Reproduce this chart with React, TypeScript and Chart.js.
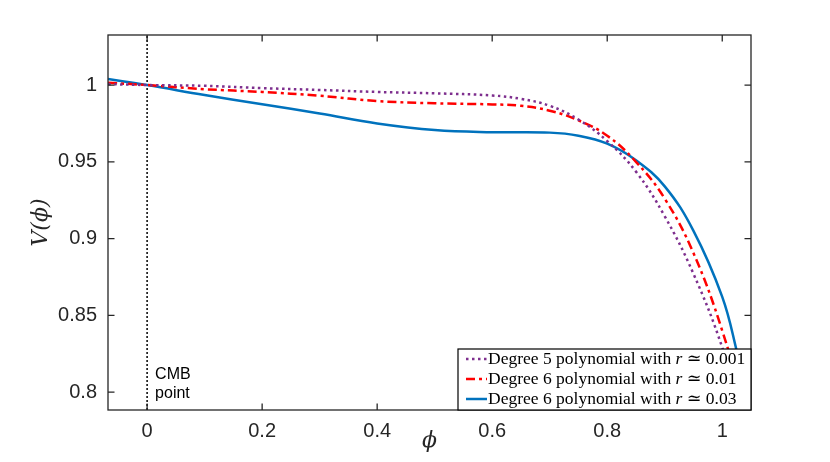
import { useEffect, useRef } from 'react';
import { Chart, registerables } from 'chart.js';

Chart.register(...registerables);

// axis limits and tick labels
const xLimits = [-0.068, 1.05];
const yLimits = [0.7883, 1.0326];
const xTicks = [0, 0.2, 0.4, 0.6, 0.8, 1];
const yTicks = [0.8, 0.85, 0.9, 0.95, 1];

// Degree 5 polynomial, r ~ 0.001
const phiDeg5 = [-0.068, 0, 0.1, 0.2, 0.3, 0.4, 0.5, 0.6, 0.65, 0.7, 0.75, 0.8, 0.85, 0.9, 0.95, 1.0, 1.05];
const vDeg5 = [1.0006, 1.0, 0.9995, 0.998, 0.9968, 0.9955, 0.9946, 0.9932, 0.991, 0.9865, 0.9775, 0.9635, 0.9436, 0.9145, 0.877, 0.829, 0.765];

// Degree 6 polynomial, r ~ 0.01
const phiDeg6a = [-0.068, 0, 0.1, 0.2, 0.3, 0.4, 0.5, 0.6, 0.65, 0.7, 0.75, 0.8, 0.85, 0.9, 0.95, 1.0, 1.05];
const vDeg6a = [1.0015, 1.0, 0.9973, 0.9955, 0.993, 0.9896, 0.9881, 0.9874, 0.9865, 0.9833, 0.977, 0.967, 0.95, 0.926, 0.8905, 0.84, 0.775];

// Degree 6 polynomial, r ~ 0.03
const phiDeg6b = [-0.068, 0, 0.1, 0.2, 0.3, 0.4, 0.5, 0.6, 0.7, 0.75, 0.8, 0.85, 0.9, 0.95, 1.0, 1.025, 1.05];
const vDeg6b = [1.0039, 1.0, 0.9935, 0.9875, 0.9815, 0.975, 0.9707, 0.9693, 0.969, 0.967, 0.9618, 0.951, 0.934, 0.905, 0.862, 0.827, 0.786];

const seriesNames = ['Degree 5 polynomial with', 'Degree 6 polynomial with', 'Degree 6 polynomial with'];
const seriesR = ['0.001', '0.01', '0.03'];

const cmbPhi = 0;
const cmbLabel = ['CMB', 'point'];

const AXIS = '#262626';
const SANS = '"Liberation Sans", Arial, sans-serif';
const SERIF = '"Liberation Serif", "DejaVu Serif", serif';

const zip = (xs: number[], ys: number[]) => xs.map((x, i) => ({ x, y: ys[i] }));

const framePlugin = {
  id: 'frame',
  afterDatasetsDraw(chart: any) {
    const { ctx, chartArea, scales } = chart;
    const { left, right, top, bottom } = chartArea;
    ctx.save();

    // CMB annotation
    const x0 = scales.x.getPixelForValue(cmbPhi);
    ctx.fillStyle = '#000';
    ctx.font = `16px ${SANS}`;
    ctx.textAlign = 'left';
    ctx.textBaseline = 'alphabetic';
    cmbLabel.forEach((t, i) => ctx.fillText(t, x0 + 8, bottom - 31 + i * 19));

    // frame and inward ticks
    ctx.strokeStyle = AXIS;
    ctx.lineWidth = 1.3;
    ctx.strokeRect(left, top, right - left, bottom - top);
    const tl = 6.5;
    ctx.beginPath();
    scales.x.ticks.forEach((t: any) => {
      const px = scales.x.getPixelForValue(t.value);
      ctx.moveTo(px, bottom);
      ctx.lineTo(px, bottom - tl);
      ctx.moveTo(px, top);
      ctx.lineTo(px, top + tl);
    });
    scales.y.ticks.forEach((t: any) => {
      const py = scales.y.getPixelForValue(t.value);
      ctx.moveTo(left, py);
      ctx.lineTo(left + tl, py);
      ctx.moveTo(right, py);
      ctx.lineTo(right - tl, py);
    });
    ctx.stroke();

    // legend box in the lower right corner
    const bw = 293;
    const bh = 61;
    const bx = right - bw;
    const by = bottom - bh;
    ctx.fillStyle = '#fff';
    ctx.fillRect(bx, by, bw, bh);
    ctx.strokeStyle = '#000';
    ctx.lineWidth = 1.2;
    ctx.strokeRect(bx, by, bw, bh);

    const datasets = chart.data.datasets.slice(0, 3);
    datasets.forEach((ds: any, i: number) => {
      const cy = by + 10 + i * 20;
      ctx.save();
      ctx.strokeStyle = ds.borderColor;
      ctx.lineWidth = ds.borderWidth;
      ctx.setLineDash(ds.borderDash || []);
      ctx.beginPath();
      ctx.moveTo(bx + 8, cy);
      ctx.lineTo(bx + 29, cy);
      ctx.stroke();
      ctx.restore();

      ctx.fillStyle = '#000';
      ctx.textBaseline = 'alphabetic';
      let tx = bx + 30;
      const base = cy + 5;
      ctx.font = `17.5px ${SERIF}`;
      const pre = seriesNames[i] + ' ';
      ctx.fillText(pre, tx, base);
      tx += ctx.measureText(pre).width;
      ctx.font = `italic 17.5px ${SERIF}`;
      ctx.fillText('r', tx, base);
      tx += ctx.measureText('r').width;
      ctx.font = `17.5px ${SERIF}`;
      ctx.fillText(' \u2243 ' + seriesR[i], tx, base);
    });

    ctx.restore();
  },
};

export default function App() {
  const canvasRef = useRef<HTMLCanvasElement>(null);
  const chartRef = useRef<Chart | null>(null);

  useEffect(() => {
    if (!canvasRef.current) return;
    if (chartRef.current) chartRef.current.destroy();

    chartRef.current = new Chart(canvasRef.current, {
      type: 'line',
      data: {
        datasets: [
          {
            label: 'deg5',
            data: zip(phiDeg5, vDeg5),
            borderColor: '#7E2F8E',
            borderWidth: 2.5,
            borderDash: [2.5, 3.5],
            pointRadius: 0,
            tension: 0.4,
          },
          {
            label: 'deg6a',
            data: zip(phiDeg6a, vDeg6a),
            borderColor: '#FF0000',
            borderWidth: 2.5,
            borderDash: [9, 4, 3, 4],
            pointRadius: 0,
            tension: 0.4,
          },
          {
            label: 'deg6b',
            data: zip(phiDeg6b, vDeg6b),
            borderColor: '#0072BD',
            borderWidth: 2.5,
            pointRadius: 0,
            tension: 0.4,
          },
          {
            label: 'cmb',
            data: [
              { x: cmbPhi, y: yLimits[0] },
              { x: cmbPhi, y: yLimits[1] },
            ],
            borderColor: '#000',
            borderWidth: 1.5,
            borderDash: [2, 2],
            pointRadius: 0,
          },
        ],
      },
      options: {
        responsive: false,
        animation: false,
        layout: { padding: { left: 0, top: 35, right: 79, bottom: 0 } },
        plugins: {
          legend: { display: false },
          tooltip: { enabled: false },
        },
        scales: {
          x: {
            type: 'linear',
            min: xLimits[0],
            max: xLimits[1],
            afterBuildTicks: (scale: any) => {
              scale.ticks = xTicks.map((value) => ({ value }));
            },
            afterFit: (scale: any) => {
              scale.height = 52;
            },
            grid: { display: false, drawTicks: false },
            border: { display: false },
            ticks: {
              color: AXIS,
              padding: 9,
              maxRotation: 0,
              font: { family: SANS, size: 20 },
              callback: (v: any) => String(v),
            },
            title: {
              display: true,
              text: '\u03D5',
              color: AXIS,
              font: { family: '"DejaVu Serif", serif', style: 'italic', size: 22 },
              padding: { top: 8, bottom: 8 },
            },
          },
          y: {
            type: 'linear',
            min: yLimits[0],
            max: yLimits[1],
            afterBuildTicks: (scale: any) => {
              scale.ticks = yTicks.map((value) => ({ value }));
            },
            afterFit: (scale: any) => {
              scale.width = 108;
            },
            grid: { display: false, drawTicks: false },
            border: { display: false },
            ticks: {
              color: AXIS,
              padding: 11,
              font: { family: SANS, size: 20 },
              callback: (v: any) => String(v),
            },
            title: {
              display: true,
              text: 'V(\u03D5)',
              color: AXIS,
              font: { family: '"DejaVu Serif", serif', style: 'italic', size: 22 },
              padding: { top: 28, bottom: 28 },
            },
          },
        },
      },
      plugins: [framePlugin],
    });

    return () => {
      if (chartRef.current) chartRef.current.destroy();
      chartRef.current = null;
    };
  }, []);

  return (
    <div style={{ position: 'absolute', left: 0, top: 0, width: 830, height: 462, background: '#fff' }}>
      <canvas ref={canvasRef} width={830} height={462} />
    </div>
  );
}
